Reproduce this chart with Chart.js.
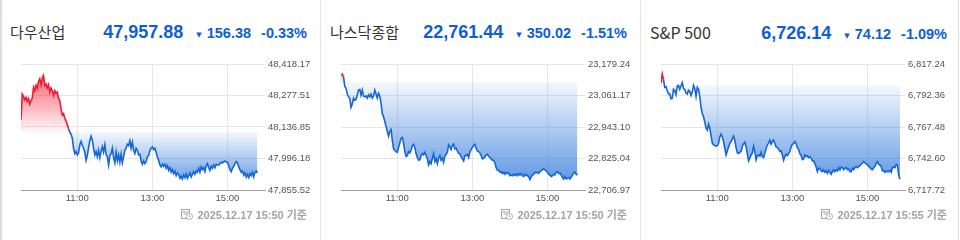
<!DOCTYPE html>
<html><head><meta charset="utf-8">
<script src="https://cdn.jsdelivr.net/npm/chart.js@4.4.1/dist/chart.umd.min.js"></script>
<style>
html,body{margin:0;padding:0;background:#fff;}
#root{position:relative;width:960px;height:240px;overflow:hidden;background:#fff;}
.panel{position:absolute;top:0;width:320px;height:240px;}
.hdr{position:absolute;left:10px;right:13px;top:19px;height:26px;line-height:26px;display:flex;align-items:baseline;white-space:nowrap;}
.name{font-family:"Noto Sans CJK KR","Noto Sans",sans-serif;font-size:15px;color:#333;margin-right:auto;}
.name.latin{font-size:16px;}
.val{font-family:"Liberation Sans",Arial,sans-serif;font-weight:bold;font-size:18px;color:#0d5ed8;}
.chg,.pct{font-family:"Liberation Sans",Arial,sans-serif;font-weight:bold;font-size:14.5px;color:#0d5ed8;}
.chg{margin-left:13px;}
.pct{margin-left:10px;}
.tri{font-family:"DejaVu Sans";font-size:7px;margin-right:5px;position:relative;top:-1px;}
canvas{position:absolute;left:0;top:55px;}
.stamp{position:absolute;right:13px;top:206px;height:15px;display:flex;align-items:center;font-family:"Liberation Sans","Noto Sans CJK KR",sans-serif;font-weight:bold;font-size:11px;color:#a3a3a3;white-space:nowrap;}
.stamp svg{margin-right:4px;}
.vline{position:absolute;top:0;height:240px;}
</style></head>
<body><div id="root"></div>
<script>
// ---- data ----
const names = ['다우산업', '나스닥종합', 'S&P 500'];
const lastValues = ['47,957.88', '22,761.44', '6,726.14'];
const changes = ['156.38', '350.02', '74.12'];
const changePcts = ['-0.33%', '-1.51%', '-1.09%'];
const prevCloses = [48114.26, 23111.46, 6800.26];
const stamps = ['2025.12.17 15:50 기준', '2025.12.17 15:50 기준', '2025.12.17 15:55 기준'];

const startMinute = 570;   // 09:30
const stepMinutes = 2;
const axisMin = 570, axisMax = 960; // 09:30 - 16:00
const xTickValues = [660, 780, 900];
const xTickLabels = ['11:00', '13:00', '15:00'];

const dowTicks = [47855.52, 47996.18, 48136.85, 48277.51, 48418.17];
const nasdaqTicks = [22706.97, 22825.04, 22943.10, 23061.17, 23179.24];
const spTicks = [6717.72, 6742.60, 6767.48, 6792.36, 6817.24];

const dowValues = [
48168.9, 48283.8, 48273.4, 48258.4, 48268.9, 48251.0, 48262.9, 48239.0, 48253.9, 48265.9,
48313.6, 48298.7, 48322.6, 48310.7, 48340.5, 48352.5, 48325.6, 48355.4, 48367.4, 48322.6,
48328.6, 48310.7, 48325.6, 48292.8, 48310.7, 48298.7, 48277.8, 48298.7, 48286.8, 48292.8,
48265.9, 48253.9, 48218.1, 48191.3, 48197.2, 48176.4, 48164.4, 48146.5, 48128.6, 48113.7,
48104.7, 48086.8, 48042.0, 48018.1, 48027.1, 48012.2, 48021.1, 48056.9, 48071.9, 48054.0,
48042.0, 48024.1, 47988.3, 48009.2, 48045.0, 48074.9, 48095.8, 48077.8, 48042.0, 48012.2,
48027.1, 48004.7, 48033.1, 48000.2, 48027.1, 48048.0, 48024.1, 48056.9, 48015.2, 48003.2,
47967.4, 48009.2, 48018.1, 48042.0, 48000.2, 47976.4, 48024.1, 47985.3, 48012.2, 47979.3,
48015.2, 47976.4, 48003.2, 48033.1, 48042.0, 48059.9, 48054.0, 48074.9, 48042.0, 48068.9,
48033.1, 48018.1, 48042.0, 48033.1, 48012.2, 48015.2, 47985.3, 47970.4, 47985.3, 47973.4,
47982.3, 48003.2, 48009.2, 48033.1, 48042.0, 48048.0, 48036.1, 48042.0, 48024.1, 48003.2,
47988.3, 47967.4, 47958.5, 47970.4, 47961.4, 47970.4, 47952.5, 47964.4, 47943.5, 47955.5,
47934.6, 47946.5, 47928.6, 47940.5, 47919.7, 47931.6, 47925.6, 47907.7, 47916.7, 47904.7,
47922.6, 47910.7, 47925.6, 47907.7, 47919.7, 47931.6, 47913.7, 47925.6, 47937.6, 47925.6,
47940.5, 47934.6, 47952.5, 47934.6, 47958.5, 47946.5, 47955.5, 47937.6, 47964.4, 47973.4,
47955.5, 47943.5, 47961.4, 47952.5, 47967.4, 47955.5, 47970.4, 47967.4,
47967.4, 47973.4, 47979.3, 47976.4, 47982.3, 47985.3, 47979.3, 47979.3, 47964.4, 47946.5,
47937.6, 47952.5, 47961.4, 47973.4, 47982.3, 47976.4, 47958.5, 47946.5, 47934.6, 47940.5,
47922.6, 47931.6, 47913.7, 47925.6, 47910.7, 47928.6, 47919.7, 47934.6, 47913.7, 47934.6,
47940.5, 47931.6
];

const nasdaqValues = [
23139.2, 23141.7, 23131.6, 23095.3, 23089.0, 23066.5, 23056.5, 23051.5, 23016.4, 23028.9,
23051.5, 23044.0, 23046.5, 23064.0, 23081.5, 23084.0, 23061.5, 23081.5, 23059.0, 23056.5,
23059.0, 23051.5, 23064.0, 23056.5, 23066.5, 23051.5, 23059.0, 23081.5, 23066.5, 23051.5,
23069.0, 23059.0, 23031.4, 22993.8, 22981.3, 22963.8, 22946.2, 22926.2, 22908.7, 22926.2,
22933.7, 22893.6, 22861.1, 22856.0, 22851.0, 22848.5, 22866.1, 22883.6, 22901.1, 22903.7,
22883.6, 22851.0, 22833.5, 22836.0, 22851.0, 22846.0, 22856.0, 22873.6, 22878.6, 22866.1,
22843.5, 22828.5, 22818.5, 22821.0, 22836.0, 22843.5, 22838.5, 22848.5, 22836.0, 22823.5,
22800.9, 22813.5, 22805.9, 22826.0, 22843.5, 22813.5, 22823.5, 22805.9, 22826.0, 22836.0,
22818.5, 22826.0, 22811.0, 22833.5, 22841.0, 22848.5, 22876.1, 22868.6, 22858.6, 22873.6,
22878.6, 22861.1, 22863.6, 22853.5, 22843.5, 22843.5, 22831.0, 22823.5, 22816.0, 22836.0,
22836.0, 22841.0, 22828.5, 22848.5, 22858.6, 22866.1, 22873.6, 22878.6, 22863.6, 22853.5,
22851.0, 22846.0, 22836.0, 22823.5, 22826.0, 22831.0, 22838.5, 22841.0, 22833.5, 22828.5,
22823.5, 22818.5, 22818.5, 22808.4, 22790.9, 22780.9, 22780.9, 22773.4, 22775.9, 22768.4,
22773.4, 22765.9, 22773.4, 22768.4, 22770.9, 22760.8, 22763.3, 22760.8, 22765.9, 22760.8,
22765.9, 22760.8, 22768.4, 22763.3, 22768.4, 22760.8, 22757.1, 22765.9, 22760.8, 22763.3,
22755.8, 22745.8, 22755.8, 22763.3, 22765.9, 22773.4, 22770.9, 22773.4, 22769.6, 22775.9,
22778.4, 22783.4, 22785.9, 22782.1, 22778.4, 22773.4, 22765.9, 22763.3, 22757.1, 22760.8,
22765.9, 22763.3, 22773.4, 22775.9, 22768.4, 22770.9, 22763.3, 22753.3, 22748.3, 22758.3,
22748.3, 22750.8, 22753.3, 22748.3, 22755.8, 22763.3, 22770.9, 22773.4, 22765.9, 22763.3
];

const spValues = [
6802.2, 6809.3, 6805.1, 6798.8, 6799.3, 6796.1, 6793.5, 6793.5, 6789.8, 6790.3,
6797.2, 6796.1, 6793.0, 6799.8, 6800.3, 6797.2, 6799.8, 6802.5, 6797.7, 6797.2,
6794.3, 6793.5, 6796.6, 6795.6, 6792.4, 6795.1, 6800.3, 6797.7, 6791.6, 6798.8,
6797.2, 6791.4, 6782.9, 6778.2, 6775.5, 6771.3, 6766.5, 6765.0, 6769.7, 6766.5,
6760.7, 6754.9, 6753.4, 6752.8, 6752.3, 6752.8, 6754.4, 6759.7, 6761.8, 6759.7,
6756.0, 6750.7, 6745.4, 6748.6, 6751.8, 6754.4, 6756.0, 6758.1, 6760.2, 6757.1,
6751.2, 6747.0, 6746.5, 6747.5, 6748.1, 6752.3, 6754.1, 6755.5, 6752.0, 6746.0,
6740.7, 6742.8, 6745.4, 6747.0, 6752.3, 6748.1, 6741.5, 6744.9, 6745.4, 6744.4,
6747.5, 6743.9, 6743.3, 6747.0, 6750.2, 6753.4, 6754.7, 6757.1, 6753.9, 6756.0,
6757.1, 6754.4, 6751.8, 6751.2, 6750.2, 6748.1, 6748.6, 6745.4, 6741.2, 6744.4,
6746.0, 6744.9, 6746.5, 6748.1, 6751.8, 6753.9, 6754.4, 6756.0, 6754.4, 6751.2,
6749.7, 6746.5, 6744.9, 6741.7, 6742.3, 6745.4, 6744.1, 6744.9, 6743.3, 6743.9,
6742.8, 6740.7, 6740.7, 6738.6, 6735.9, 6732.2, 6734.9, 6734.9, 6732.8, 6732.2,
6733.6, 6731.7, 6732.8, 6730.9, 6733.3, 6731.7, 6730.1, 6732.2, 6733.6, 6732.2,
6733.6, 6732.8, 6735.4, 6733.6, 6735.9, 6735.4, 6733.8, 6734.9, 6735.4, 6733.8,
6734.3, 6732.2, 6732.2, 6734.9, 6733.8, 6735.4, 6736.2, 6735.4, 6736.2, 6737.0,
6738.0, 6739.1, 6740.2, 6739.1, 6738.3, 6737.5, 6736.5, 6735.4, 6734.3, 6733.8,
6735.4, 6736.5, 6738.8, 6740.2, 6738.0, 6737.5, 6736.2, 6732.8, 6733.3, 6731.7,
6732.8, 6732.2, 6732.2, 6733.3, 6731.7, 6735.4, 6735.9, 6735.4, 6738.0, 6737.0,
6729.1, 6726.2
];

const seriesList = [dowValues, nasdaqValues, spValues];
const tickList = [dowTicks, nasdaqTicks, spTicks];

// ---- styles ----
const RED = '#ee1c34';
const BLUE = '#1766d6';
const TICK_FONT = {family: '"Liberation Sans", Arial, sans-serif', size: 9.5};

const root = document.getElementById('root');
function addLine(left, width, color) {
  const d = document.createElement('div');
  d.className = 'vline';
  d.style.left = left + 'px'; d.style.width = width + 'px'; d.style.background = color;
  root.appendChild(d);
}

const fmt = v => v.toLocaleString('en-US', {minimumFractionDigits: 2, maximumFractionDigits: 2});

function buildPanel(i) {
  const p = document.createElement('div');
  p.className = 'panel';
  p.style.left = (320 * i) + 'px';
  const hdr = document.createElement('div');
  hdr.className = 'hdr';
  const nm = document.createElement('span'); nm.className = 'name' + (/^[A-Za-z]/.test(names[i]) ? ' latin' : ''); nm.textContent = names[i];
  const vl = document.createElement('span'); vl.className = 'val'; vl.textContent = lastValues[i];
  const ch = document.createElement('span'); ch.className = 'chg';
  const tri = document.createElement('span'); tri.className = 'tri'; tri.textContent = '▼';
  ch.appendChild(tri); ch.appendChild(document.createTextNode(changes[i]));
  const pc = document.createElement('span'); pc.className = 'pct'; pc.textContent = changePcts[i];
  hdr.append(nm, vl, ch, pc);
  p.appendChild(hdr);

  const cv = document.createElement('canvas');
  cv.width = 320; cv.height = 160;
  cv.style.width = '320px'; cv.style.height = '160px';
  p.appendChild(cv);

  const st = document.createElement('div');
  st.className = 'stamp';
  st.innerHTML = '<svg width="12" height="12" viewBox="0 0 12 12"><rect x="0.5" y="1.5" width="8" height="9" fill="none" stroke="#a8a8a8"/><line x1="0.5" y1="4" x2="8.5" y2="4" stroke="#a8a8a8"/><line x1="2.5" y1="6" x2="6.5" y2="6" stroke="#a8a8a8"/><circle cx="8.5" cy="8.5" r="3" fill="#fff" stroke="#a8a8a8"/><polyline points="8.5,7 8.5,8.7 9.8,8.7" fill="none" stroke="#a8a8a8" stroke-width="0.9"/></svg>';
  st.appendChild(document.createTextNode(stamps[i]));
  p.appendChild(st);
  root.appendChild(p);
  return cv;
}

function makeChart(cv, values, ticks, prev) {
  const pts = values.map((v, k) => ({x: startMinute + k * stepMinutes, y: v}));
  return new Chart(cv, {
    type: 'line',
    data: {datasets: [{
      data: pts,
      borderColor: BLUE,
      borderWidth: 1.6,
      pointRadius: 0,
      tension: 0,
      segment: {
        borderColor: c => (c.p0.parsed.y >= prev && c.p1.parsed.y >= prev) ? RED : BLUE
      },
      fill: c => {
        const chart = c.chart;
        const area = chart.chartArea;
        if (!area || !chart.scales.y) {
          return {value: prev, above: 'rgba(238,28,52,0.3)', below: 'rgba(74,138,224,0.5)'};
        }
        const yb = chart.scales.y.getPixelForValue(prev);
        const g1 = chart.ctx.createLinearGradient(0, area.top, 0, yb);
        g1.addColorStop(0, 'rgba(240,40,60,0.85)');
        g1.addColorStop(1, 'rgba(240,40,60,0.04)');
        const g2 = chart.ctx.createLinearGradient(0, yb, 0, area.bottom);
        g2.addColorStop(0, 'rgba(74,138,224,0.06)');
        g2.addColorStop(1, 'rgba(74,138,224,0.95)');
        return {value: prev, above: g1, below: g2};
      }
    }]},
    options: {
      responsive: false,
      animation: false,
      devicePixelRatio: 1,
      layout: {padding: {left: 21, top: 9, right: 0, bottom: 0}},
      plugins: {legend: {display: false}, tooltip: {enabled: false}},
      scales: {
        x: {
          type: 'linear', min: axisMin, max: axisMax,
          afterBuildTicks: s => { s.ticks = xTickValues.map(v => ({value: v})); },
          afterFit: s => { s.height = 25; },
          ticks: {callback: (v, idx) => xTickLabels[idx], color: '#555', font: TICK_FONT, padding: 3, maxRotation: 0, autoSkip: false},
          grid: {color: '#e6e6e6', drawTicks: false},
          border: {color: '#a0a0a0'}
        },
        y: {
          position: 'right', min: ticks[0], max: ticks[ticks.length - 1],
          afterBuildTicks: s => { s.ticks = ticks.map(v => ({value: v})); },
          afterFit: s => { s.width = 55; },
          ticks: {callback: v => fmt(v), color: '#555', font: TICK_FONT, padding: 3},
          grid: {color: '#e6e6e6', drawTicks: false},
          border: {display: false}
        }
      }
    }
  });
}

for (let i = 0; i < 3; i++) {
  const cv = buildPanel(i);
  makeChart(cv, seriesList[i], tickList[i], prevCloses[i]);
}
addLine(0, 2, '#dcdce8');
addLine(320, 1, '#e6e6e6');
addLine(640, 1, '#e6e6e6');
addLine(958, 1, '#dedee6');
</script>
</body></html>
